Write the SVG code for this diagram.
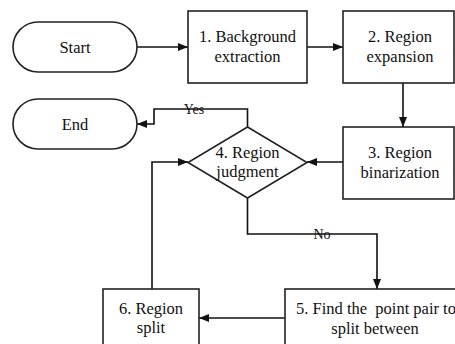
<svg xmlns="http://www.w3.org/2000/svg" width="455" height="344" viewBox="0 0 455 344">
<defs>
<marker id="ah" markerWidth="10" markerHeight="8" refX="10" refY="4" orient="auto" markerUnits="userSpaceOnUse">
<path d="M0,0 L10,4 L0,8 Z" fill="#111"/>
</marker>
<style>
.shape{fill:#fff;stroke:#222;stroke-width:1.6}
.conn{fill:none;stroke:#111;stroke-width:1.6}
text{font-family:'Liberation Serif','DejaVu Serif',serif;font-size:16.5px;fill:#111}
.c{text-anchor:middle}
.lbl{font-size:14px}
</style>
</defs>
<rect width="455" height="344" fill="#fff"/>
<g id="connectors">
<path class="conn" d="M137,47 H188" marker-end="url(#ah)"/>
<path class="conn" d="M307,47 H343" marker-end="url(#ah)"/>
<path class="conn" d="M403,83 V127" marker-end="url(#ah)"/>
<path class="conn" d="M343,162 H307" marker-end="url(#ah)"/>
<path class="conn" d="M247.5,127 V109 H154 V124 H137" marker-end="url(#ah)"/>
<path class="conn" d="M247.5,198 V234 H377 V289" marker-end="url(#ah)"/>
<path class="conn" d="M285,318 H199" marker-end="url(#ah)"/>
<path class="conn" d="M152,289 V162 H188" marker-end="url(#ah)"/>
<text class="c lbl" x="194" y="114">Yes</text>
<text class="c lbl" x="322" y="239">No</text>
</g>
<g id="start">
<rect class="shape" x="13" y="22" width="124" height="50" rx="25" ry="25"/>
<text class="c" x="75" y="53">Start</text>
</g>
<g id="end">
<rect class="shape" x="13" y="99" width="124" height="50" rx="25" ry="25"/>
<text class="c" x="75" y="130">End</text>
</g>
<g id="n1">
<rect class="shape" x="188" y="11" width="119" height="72"/>
<text class="c" x="247.5" y="42">1. Background</text>
<text class="c" x="247.5" y="62">extraction</text>
</g>
<g id="n2">
<rect class="shape" x="343" y="11" width="111" height="72"/>
<text class="c" x="400" y="42">2. Region</text>
<text class="c" x="400" y="62">expansion</text>
</g>
<g id="n3">
<rect class="shape" x="343" y="127" width="111" height="72"/>
<text class="c" x="400" y="158">3. Region</text>
<text class="c" x="400" y="178">binarization</text>
</g>
<g id="n4">
<polygon class="shape" points="247.5,127 307,162.5 247.5,198 188,162.5"/>
<text class="c" x="247.5" y="158">4. Region</text>
<text class="c" x="247.5" y="177">judgment</text>
</g>
<g id="n5">
<rect class="shape" x="285" y="289" width="185" height="70"/>
<text x="296" y="314" xml:space="preserve">5. Find the  point pair to</text>
<text class="c" x="375" y="334">split between</text>
</g>
<g id="n6">
<rect class="shape" x="103" y="289" width="96" height="70"/>
<text class="c" x="151" y="314">6. Region</text>
<text class="c" x="151" y="333">split</text>
</g>
</svg>
